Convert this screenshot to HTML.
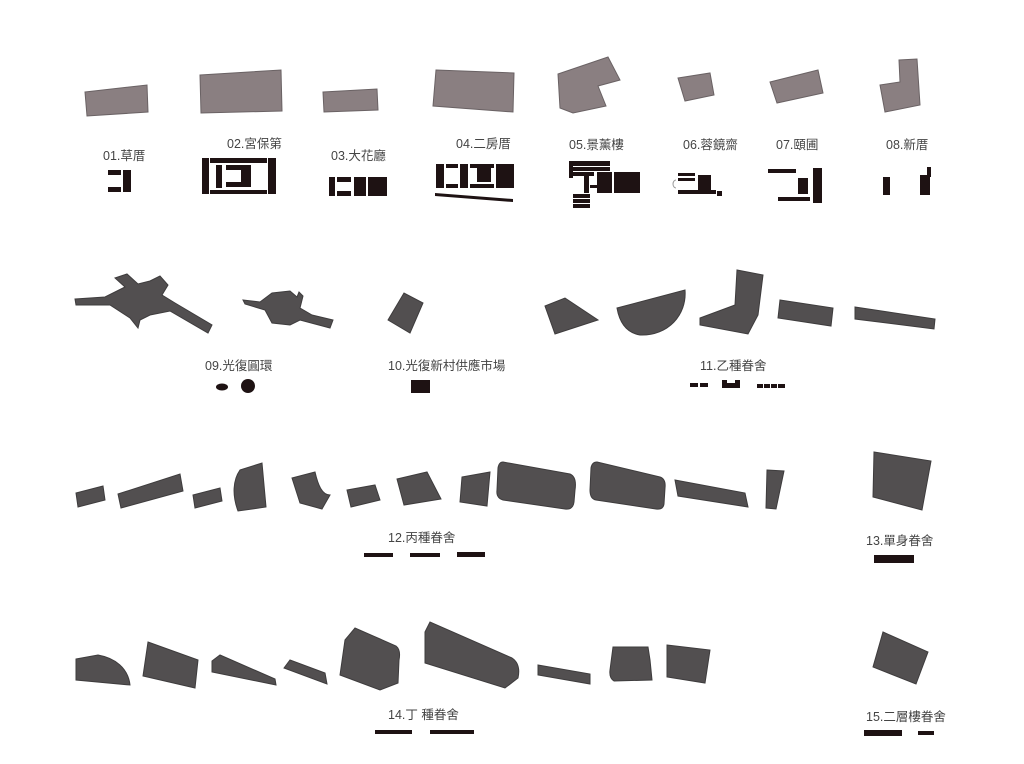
<!DOCTYPE html>
<html><head><meta charset="utf-8"><style>
html,body{margin:0;padding:0;background:#fff;}
svg{display:block;}
text{font-family:"Liberation Sans","Noto Sans CJK TC",sans-serif;font-size:12.5px;fill:#444;}
.p1{fill:#8a7f81;stroke:#6a6264;stroke-width:1}
.p2{fill:#524f50;stroke:#3e3c3d;stroke-width:1}
.k{fill:#1e1213}
</style></head><body>
<svg width="1024" height="764" viewBox="0 0 1024 764">
<!-- row 1 photos -->
<g class="p1">
<polygon points="85,92 147,85 148,112 87,116"/>
<polygon points="200,75 281,70 282,111 201,113"/>
<polygon points="323,92 377,89 378,110 324,112"/>
<polygon points="436,70 514,73 513,112 433,106"/>
<polygon points="558,74 608,57 620,80 598,86 606,106 573,113 560,108"/>
<polygon points="678,78 710,73 714,95 685,101"/>
<polygon points="770,82 818,70 823,93 777,103"/>
<polygon points="880,85 900,82 899,60 917,59 920,105 885,112"/>
</g>
<text x="103" y="160">01.草厝</text>
<text x="227" y="148">02.宮保第</text>
<text x="331" y="160">03.大花廳</text>
<text x="456" y="148">04.二房厝</text>
<text x="569" y="149">05.景薰樓</text>
<text x="683" y="149">06.蓉鏡齋</text>
<text x="776" y="149">07.頤圃</text>
<text x="886" y="149">08.新厝</text>
<!-- row1 plans -->
<g class="k">
<rect x="108" y="170" width="13" height="5"/><rect x="108" y="187" width="13" height="5"/><rect x="123" y="170" width="8" height="22"/>
<rect x="202" y="158" width="7" height="36"/><rect x="268" y="158" width="8" height="36"/><rect x="210" y="158" width="57" height="5"/><rect x="210" y="190" width="57" height="4"/>
<rect x="216" y="165" width="6" height="23"/><rect x="226" y="165" width="22" height="5"/><rect x="226" y="182" width="22" height="5"/><rect x="241" y="165" width="10" height="22"/>
<rect x="329" y="177" width="6" height="19"/><rect x="337" y="177" width="14" height="5"/><rect x="337" y="191" width="14" height="5"/><rect x="354" y="177" width="12" height="19"/><rect x="368" y="177" width="19" height="19"/>
<rect x="436" y="164" width="8" height="24"/><rect x="446" y="164" width="12" height="4"/><rect x="446" y="184" width="12" height="4"/><rect x="460" y="164" width="8" height="24"/><rect x="470" y="164" width="24" height="4"/><rect x="470" y="184" width="24" height="4"/><rect x="477" y="168" width="14" height="14"/><rect x="496" y="164" width="18" height="24"/>
<polygon points="435,193 513,199 513,202 435,196"/>
<rect x="569" y="161" width="41" height="5"/><rect x="569" y="167" width="41" height="4"/><rect x="569" y="161" width="4" height="17"/><rect x="572" y="172" width="22" height="4"/><rect x="584" y="175" width="5" height="18"/><rect x="590" y="185" width="8" height="3"/><rect x="597" y="172" width="15" height="21"/><rect x="614" y="172" width="26" height="21"/><rect x="573" y="194" width="17" height="4"/><rect x="573" y="199" width="17" height="4"/><rect x="573" y="204" width="17" height="4"/>
<rect x="678" y="173" width="17" height="3"/><rect x="678" y="178" width="17" height="3"/><rect x="698" y="175" width="13" height="18"/><rect x="678" y="190" width="38" height="4"/><rect x="717" y="191" width="5" height="5"/>
<rect x="768" y="169" width="28" height="4"/><rect x="798" y="178" width="10" height="16"/><rect x="813" y="168" width="9" height="35"/><rect x="778" y="197" width="32" height="4"/>
<rect x="883" y="177" width="7" height="18"/><rect x="920" y="175" width="10" height="20"/><rect x="927" y="167" width="4" height="10"/>
</g>
<path d="M676,180 a3,4 0 0,0 0,8" fill="none" stroke="#999" stroke-width="1"/>
<!-- row 2 -->
<g class="p2">
<polygon points="75,299 105,297 125,287 115,278 127,274 138,284 150,281 160,276 168,285 162,295 175,303 212,325 208,333 170,311 150,315 140,320 138,328 130,318 110,305 76,305"/>
<polygon points="243,300 260,302 272,293 290,291 297,297 299,292 303,296 300,308 312,315 333,320 330,328 300,320 290,325 272,323 265,310 245,304"/>
<polygon points="388,320 404,293 423,303 410,333"/>
<polygon points="545,306 565,298 598,320 555,334"/>
<path d="M617,308 L685,290 C687,315 668,336 640,335 C628,333 620,325 617,308 Z"/>
<polygon points="700,318 735,305 737,270 763,275 758,315 748,334 700,325"/>
<polygon points="780,300 833,308 831,326 778,318"/>
<polygon points="855,307 935,319 934,329 855,319"/>
</g>
<text x="205" y="370">09.光復圓環</text>
<text x="388" y="370">10.光復新村供應市場</text>
<text x="700" y="370">11.乙種眷舍</text>
<g class="k">
<ellipse cx="222" cy="387" rx="6" ry="3.5"/><circle cx="248" cy="386" r="7"/>
<rect x="411" y="380" width="19" height="13"/>
<rect x="690" y="383" width="8" height="4"/><rect x="700" y="383" width="8" height="4"/>
<rect x="722" y="380" width="5" height="8"/><rect x="722" y="383" width="18" height="5"/><rect x="735" y="380" width="5" height="8"/>
<rect x="757" y="384" width="6" height="4"/><rect x="764" y="384" width="6" height="4"/><rect x="771" y="384" width="6" height="4"/><rect x="778" y="384" width="7" height="4"/>
</g>
<!-- row 3 -->
<g class="p2">
<polygon points="76,493 103,486 105,500 78,507"/>
<polygon points="118,494 180,474 183,491 121,508"/>
<polygon points="193,495 220,488 222,501 195,508"/>
<path d="M240,470 L262,463 L266,507 L238,511 C232,495 233,480 240,470 Z"/>
<path d="M292,478 L315,472 C318,485 322,495 330,495 L322,509 L300,503 Z"/>
<polygon points="347,490 375,485 380,500 351,507"/>
<polygon points="397,479 427,472 441,499 404,505"/>
<polygon points="462,477 490,472 487,506 460,502"/>
<path d="M503,462 L570,474 Q577,477 575,490 L574,502 Q573,510 565,509 L503,500 Q496,498 497,490 L498,468 Q499,462 503,462 Z"/>
<path d="M597,462 L660,477 Q666,479 665,488 L664,504 Q663,510 656,509 L596,500 Q590,499 590,490 L591,468 Q592,462 597,462 Z"/>
<polygon points="675,480 745,493 748,507 678,496"/>
<polygon points="767,470 784,471 776,509 766,508"/>
<polygon points="874,452 931,461 922,510 873,497"/>
</g>
<text x="388" y="542">12.丙種眷舍</text>
<text x="866" y="545">13.單身眷舍</text>
<g class="k">
<rect x="364" y="553" width="29" height="4"/><rect x="410" y="553" width="30" height="4"/><rect x="457" y="552" width="28" height="5"/>
<rect x="874" y="555" width="40" height="8"/>
</g>
<!-- row 4 -->
<g class="p2">
<path d="M76,659 L98,655 C115,658 128,668 130,685 L76,680 Z"/>
<polygon points="148,642 198,660 195,688 143,676"/>
<polygon points="212,661 220,655 275,679 276,685 212,672"/>
<polygon points="284,668 290,660 325,673 327,684"/>
<path d="M345,640 L355,628 L396,646 Q401,650 399,660 L398,683 L380,690 L340,675 Z"/>
<path d="M425,632 L430,622 L512,658 Q521,664 518,678 L505,688 L425,663 Z"/>
<polygon points="538,665 590,674 590,684 538,675"/>
<path d="M613,647 L648,647 L650,660 L652,680 L614,681 Q609,678 610,670 Z"/>
<polygon points="667,645 710,650 705,683 667,677"/>
<polygon points="883,632 928,652 916,684 873,667"/>
</g>
<text x="388" y="719">14.丁 種眷舍</text>
<text x="866" y="721">15.二層樓眷舍</text>
<g class="k">
<rect x="375" y="730" width="37" height="4"/><rect x="430" y="730" width="44" height="4"/>
<rect x="864" y="730" width="38" height="6"/><rect x="918" y="731" width="16" height="4"/>
</g>
</svg>
</body></html>
